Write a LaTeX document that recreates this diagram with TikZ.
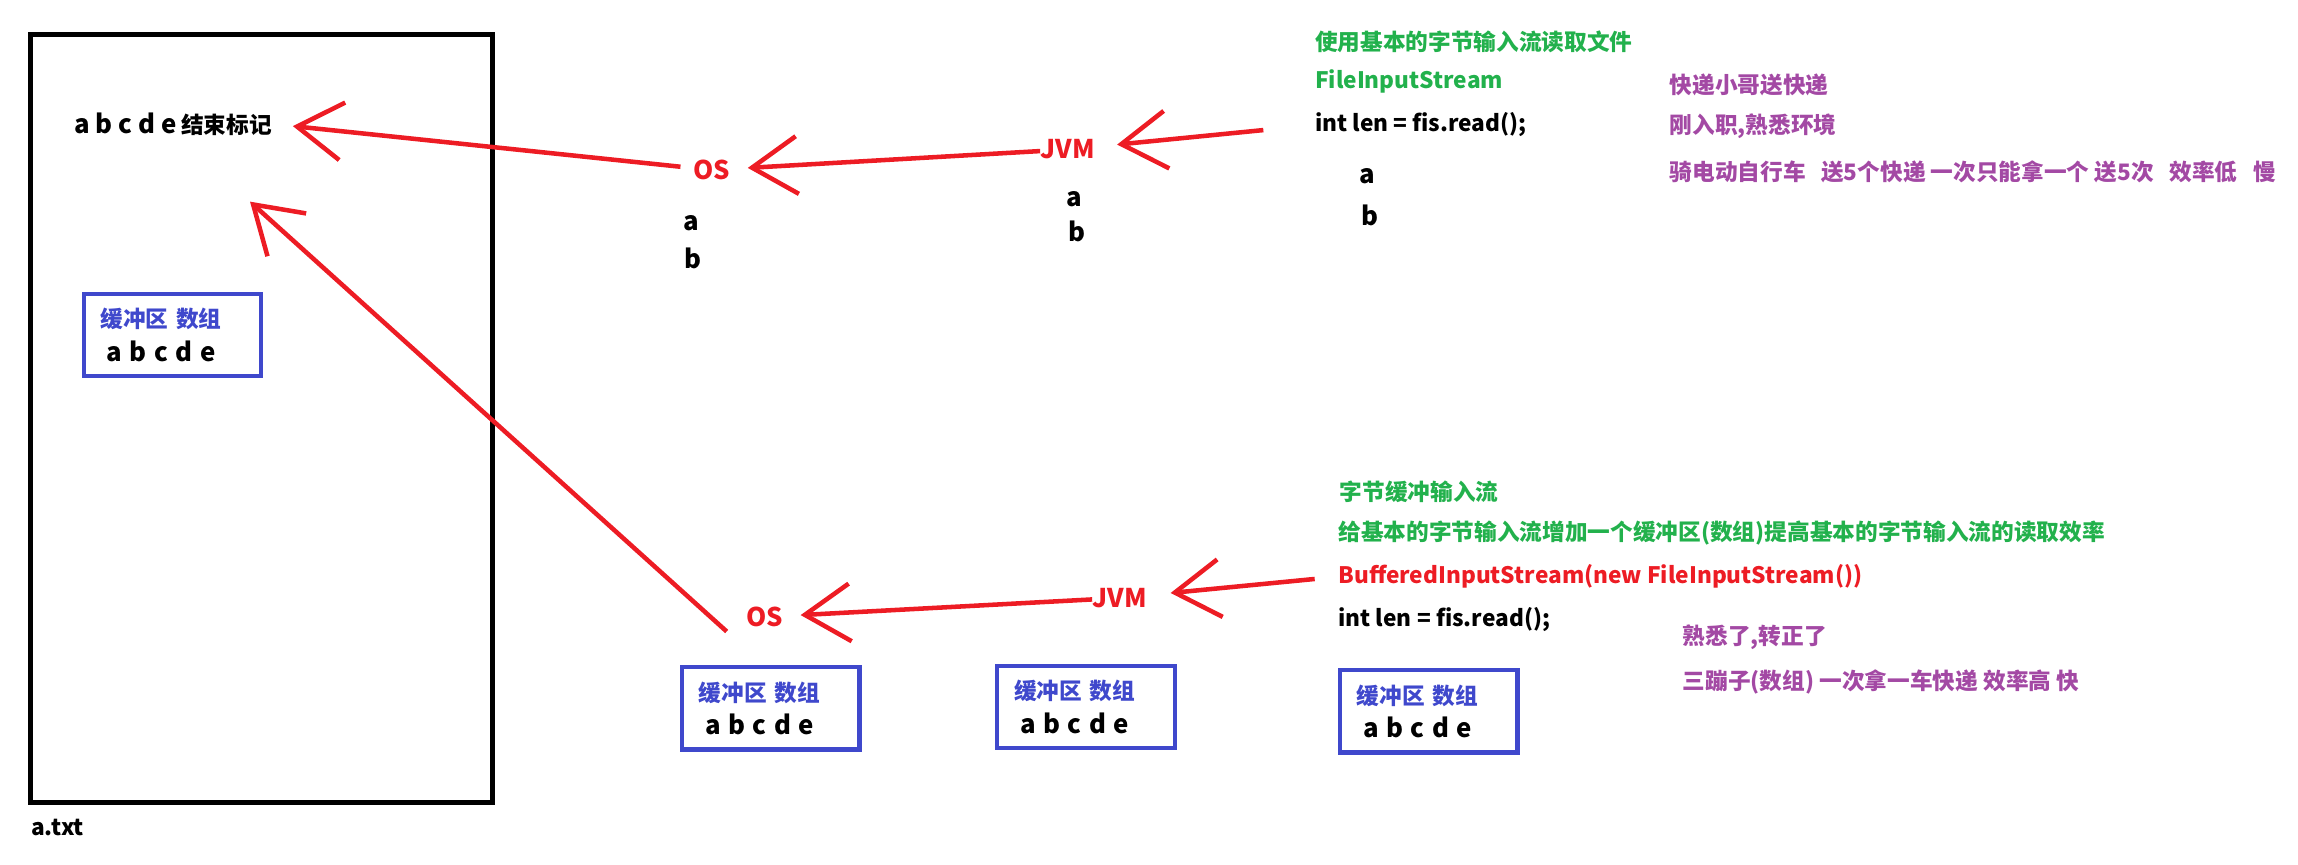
\documentclass[tikz,border=0pt]{standalone}
\usepackage{fontspec}
\setmainfont{Noto Sans CJK SC}
\usetikzlibrary{arrows.meta}
\definecolor{penred}{RGB}{237,28,36}
\definecolor{pengreen}{RGB}{34,177,76}
\definecolor{penpurple}{RGB}{163,73,164}
\definecolor{penblue}{RGB}{63,72,204}
\newcommand{\zhtxt}{\fontsize{11}{16.4}\selectfont}
\newcommand{\latxt}{\fontsize{11}{16.4}\selectfont}
\newcommand{\abtxt}{\fontsize{12.5}{16.4}\selectfont}

\begin{document}
\begin{tikzpicture}[x=0.025cm, y=-0.025cm, font=\bfseries,
	txt/.style={anchor=west, inner sep=0pt},
	lab/.style={inner sep=0pt, font=\bfseries\abtxt},
	zh/.style={txt, font=\bfseries\zhtxt},
	la/.style={txt, font=\bfseries\latxt},
	red arrow/.style={draw=penred, line width=2.2pt, -{Straight Barb[length=22pt,width=28pt]}},
	bufbox/.style={draw=penblue, line width=2pt, anchor=north west, minimum width=3.025cm,
		minimum height=1.4cm, inner xsep=0.2875cm, text width=2.45cm, align=left, font=\bfseries\zhtxt}]
			\useasboundingbox (0,0) rectangle (1568,590);

			\node[draw, line width=2.4pt, anchor=north west, inner sep=0pt, minimum width=7.875cm, minimum height=13.1cm] (file) at (19,22) {};
			\node[la] (atxt) at (21,564.5) {a.txt};
			\node[txt] (mark) at (50.4,84.6) {{\abtxt a b c d e} {\zhtxt 结束标记}};
			\node[bufbox] (buf0) at (55.7,199) {{\color{penblue}缓冲区 数组}\\\hspace*{3pt}{\abtxt a b c d e}};

			\node[lab, text=penred] (os1) at (485.5,116) {OS};
			\node[lab] (osa) at (472,152) {a};
			\node[lab] (osb) at (473,176) {b};
			\node[lab, text=penred] (jvm1) at (728.5,102) {JVM};
			\node[lab] (jvma) at (733,136) {a};
			\node[lab] (jvmb) at (735,158) {b};

			\node[zh, text=pengreen] (title1) at (897,28.4) {使用基本的字节输入流读取文件};
			\node[la, text=pengreen] (fis) at (897,55.7) {FileInputStream};
			\node[la] (read1) at (897,85.3) {int len = fis.read();};
			\node[lab] (ra) at (933,120) {a};
			\node[lab] (rb) at (935,147) {b};
			\node[zh, text=penpurple] (note1) at (1139,58) {快递小哥送快递};
			\node[zh, text=penpurple] (note2) at (1139,86.4) {刚入职,熟悉环境};
			\node[zh, text=penpurple] (note3) at (1139,117) {骑电动自行车\ \ \ 送5个快递 一次只能拿一个 送5次\ \ \ 效率低\ \ \ 慢};

			\node[lab, text=penred] (os2) at (522,421) {OS};
			\node[lab, text=penred] (jvm2) at (764,408) {JVM};
			\node[bufbox] (bufa) at (464,454) {{\color{penblue}缓冲区 数组}\\\hspace*{3pt}{\abtxt a b c d e}};
			\node[bufbox] (bufb) at (679,453) {{\color{penblue}缓冲区 数组}\\\hspace*{3pt}{\abtxt a b c d e}};
			\node[bufbox] (bufc) at (913,456) {{\color{penblue}缓冲区 数组}\\\hspace*{3pt}{\abtxt a b c d e}};
			\node[zh, text=pengreen] (title2) at (914,335.5) {字节缓冲输入流};
			\node[zh, text=pengreen] (title3) at (913,364) {给基本的字节输入流增加一个缓冲区(数组)提高基本的字节输入流的读取效率};
			\node[la, text=penred] (bis) at (913,393.5) {BufferedInputStream(new FileInputStream())};
			\node[la] (read2) at (913,423) {int len = fis.read();};
			\node[zh, text=penpurple] (note4) at (1148,435) {熟悉了,转正了};
			\node[zh, text=penpurple] (note5) at (1148,465) {三蹦子(数组) 一次拿一车快递 效率高 快};
			\coordinate (hit) at (170.6,137.6);

			\draw[red arrow, shorten <=6pt, shorten >=10pt] (os1) -- (mark.east);
			\draw[red arrow, shorten >=8.5pt] (jvm1) -- (os1);
			\draw[red arrow, shorten <=25pt, shorten >=10.7pt] (read1.west) -- (jvm1);
			\draw[red arrow, shorten <=11.4pt, shorten >=11.4pt] (bis.west) -- (jvm2);
			\draw[red arrow, shorten >=8.2pt] (jvm2) -- (os2);
			\draw[red arrow] ([xshift=-9.5pt,yshift=-2pt]os2.south west) -- (hit);
		\end{tikzpicture}
\end{document}
